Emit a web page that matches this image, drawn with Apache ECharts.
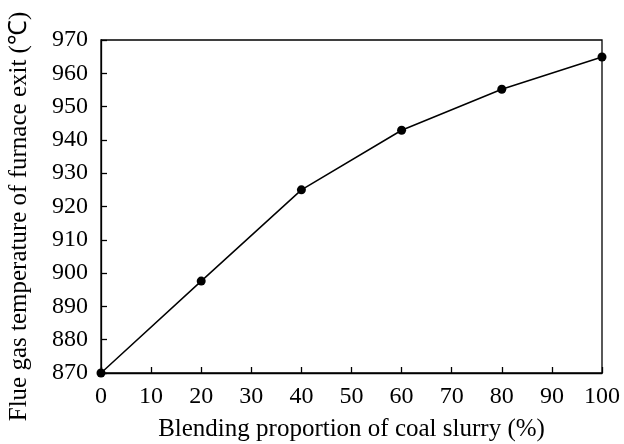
<!DOCTYPE html>
<html>
<head>
<meta charset="utf-8">
<script src="https://cdn.jsdelivr.net/npm/echarts@6/dist/echarts.min.js"></script>
<style>html,body{margin:0;padding:0;background:#fff;}#c{width:624px;height:444px;}</style>
</head>
<body>
<div id="c"></div>
<script>
var xValues = [0, 20, 40, 60, 80, 100];
var yValues = [870, 897.6, 925, 942.9, 955.2, 964.9];
var xTitle = 'Blending proportion of coal slurry (%)';
var yTitle = 'Flue gas temperature of furnace exit (\u2103)';

var chart = echarts.init(document.getElementById('c'), null, {renderer: 'canvas'});
var font = 'Liberation Serif';
var axisLineStyle = {color: '#000', width: 1.3};
chart.setOption({
  animation: false,
  backgroundColor: '#fff',
  grid: {left: 101, right: 22, top: 40, bottom: 71, outerBoundsMode: 'none', containLabel: false, show: true, borderColor: '#000', borderWidth: 1.3, backgroundColor: 'transparent'},
  xAxis: {
    type: 'value', min: 0, max: 100, interval: 10,
    name: xTitle, nameLocation: 'middle', nameGap: 44,
    nameTextStyle: {fontFamily: font, fontSize: 25, color: '#000'},
    axisLine: {show: true, lineStyle: axisLineStyle},
    axisTick: {show: true, inside: true, length: 6, lineStyle: axisLineStyle},
    axisLabel: {fontFamily: font, fontSize: 24, color: '#000', margin: 12},
    splitLine: {show: false}
  },
  yAxis: {
    type: 'value', min: 870, max: 970, interval: 10,
    name: yTitle, nameLocation: 'middle', nameGap: 69,
    nameTextStyle: {fontFamily: font, fontSize: 25, color: '#000', padding: [0, 20, 0, 0]},
    axisLine: {show: true, lineStyle: axisLineStyle},
    axisTick: {show: true, inside: true, length: 6, lineStyle: axisLineStyle},
    axisLabel: {fontFamily: font, fontSize: 24, color: '#000', margin: 13},
    splitLine: {show: false}
  },
  series: [{
    type: 'line',
    data: xValues.map(function (x, i) { return [x, yValues[i]]; }),
    symbol: 'circle', symbolSize: 9,
    itemStyle: {color: '#000'},
    lineStyle: {color: '#000', width: 1.5},
    clip: false
  }]
});
</script>
</body>
</html>
